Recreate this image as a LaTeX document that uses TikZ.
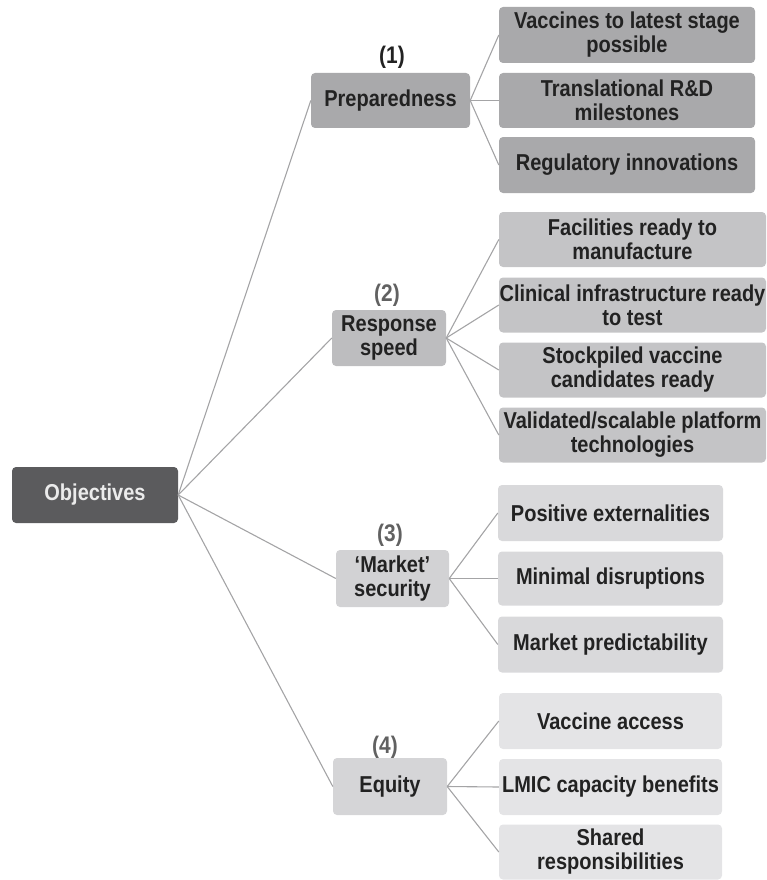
\documentclass[tikz,border=0pt]{standalone}
\usepackage{fontspec}
\setmainfont{Liberation Sans}[FakeStretch=0.87]
\definecolor{objfill}{HTML}{5B5B5D}
\definecolor{prepfill}{HTML}{A9A9AB}
\definecolor{respfill}{HTML}{BDBDBF}
\definecolor{respchild}{HTML}{C4C4C6}
\definecolor{mktfill}{HTML}{D2D2D4}
\definecolor{mktchild}{HTML}{D9D9DB}
\definecolor{eqfill}{HTML}{D5D5D7}
\definecolor{eqchild}{HTML}{E4E4E6}
\definecolor{txtdark}{HTML}{222222}
\definecolor{linkcol}{HTML}{A4A4A6}
\tikzset{
  box/.style={rounded corners=4pt, inner sep=0pt, align=center, text=txtdark,
    font=\fontsize{23}{24}\selectfont\bfseries},
  link/.style={draw=linkcol, line width=1.1pt},
  numlabel/.style={font=\fontsize{24}{24}\selectfont\bfseries, inner sep=0pt}
}
\begin{document}
\begin{tikzpicture}[x=1pt,y=-1pt]
\useasboundingbox (0,0) rectangle (767,880);
% root
\node[box, fill=objfill, text=white!92!black, minimum width=166pt, minimum height=56pt] (obj) at (95,495) {Objectives};
% level 1
\node[box, fill=prepfill, minimum width=159pt, minimum height=55pt] (prep) at (390.5,100.5) {Preparedness};
\node[box, fill=respfill, minimum width=114pt, minimum height=56pt] (resp) at (389,338) {Response\\speed};
\node[box, fill=mktfill, minimum width=113pt, minimum height=57pt] (mkt) at (392.5,578.5) {‘Market’\\security};
\node[box, fill=eqfill, minimum width=114pt, minimum height=57pt] (eq) at (390,786.5) {Equity};
% numbers
\node[numlabel, text=txtdark] (n1) at (392,57) {(1)};
\node[numlabel, text=black!62] (n2) at (387,295) {(2)};
\node[numlabel, text=black!62] (n3) at (390,535) {(3)};
\node[numlabel, text=black!62] (n4) at (385,747) {(4)};
% preparedness children
\node[box, fill=prepfill, minimum width=256pt, minimum height=56pt] (p1) at (627,35) {Vaccines to latest stage\\possible};
\node[box, fill=prepfill, minimum width=256pt, minimum height=55pt] (p2) at (627,100.5) {Translational R\&D\\milestones};
\node[box, fill=prepfill, minimum width=256pt, minimum height=56pt] (p3) at (627,165) {Regulatory innovations};
% response children
\node[box, fill=respchild, minimum width=267pt, minimum height=55pt] (r1) at (632.5,239.5) {Facilities ready to\\manufacture};
\node[box, fill=respchild, minimum width=267pt, minimum height=55pt] (r2) at (632.5,305) {Clinical infrastructure ready\\to test};
\node[box, fill=respchild, minimum width=267pt, minimum height=55pt] (r3) at (632.5,370) {Stockpiled vaccine\\candidates ready};
\node[box, fill=respchild, minimum width=267pt, minimum height=55pt] (r4) at (632.5,435) {Validated/scalable platform\\technologies};
% market children
\node[box, fill=mktchild, minimum width=225pt, minimum height=56pt] (m1) at (610.5,513) {Positive externalities};
\node[box, fill=mktchild, minimum width=225pt, minimum height=54pt] (m2) at (610.5,578.5) {Minimal disruptions};
\node[box, fill=mktchild, minimum width=225pt, minimum height=56pt] (m3) at (610.5,644.5) {Market predictability};
% equity children
\node[box, fill=eqchild, minimum width=223pt, minimum height=56pt] (e1) at (610.5,721) {Vaccine access};
\node[box, fill=eqchild, minimum width=223pt, minimum height=56pt] (e2) at (610.5,787) {LMIC capacity benefits};
\node[box, fill=eqchild, minimum width=223pt, minimum height=55pt] (e3) at (610.5,852) {Shared\\responsibilities};
% connectors
\foreach \t in {prep,resp,mkt,eq} \draw[link] (obj.east) -- (\t.west);
\foreach \t in {p1,p2,p3} \draw[link] (prep.east) -- (\t.west);
\foreach \t in {r1,r2,r3,r4} \draw[link] (resp.east) -- (\t.west);
\foreach \t in {m1,m2,m3} \draw[link] (mkt.east) -- (\t.west);
\foreach \t in {e1,e2,e3} \draw[link] (eq.east) -- (\t.west);
\end{tikzpicture}
\end{document}
